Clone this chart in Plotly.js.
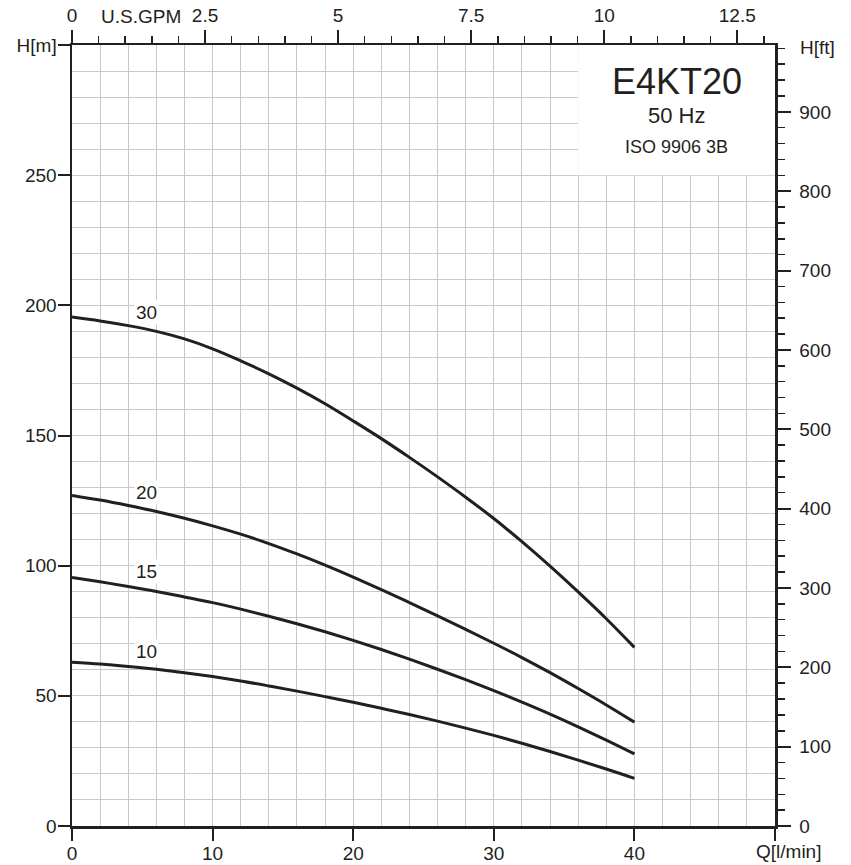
<!DOCTYPE html>
<html>
<head>
<meta charset="utf-8">
<script src="https://cdn.plot.ly/plotly-3.0.1.min.js"></script>
<style>html,body{margin:0;padding:0;background:#fff;}#chart{width:851px;height:865px;}</style>
</head>
<body>
<div id="chart"></div>
<script>
// Flow Q [l/min]
const flowQ = [0,2,4,6,8,10,12,14,16,18,20,22,24,26,28,30,32,34,36,38,40];
// Head H [m] for each stage count
const head30 = [195.5,194.0,192.2,190.0,187.1,183.3,178.7,173.7,168.2,162.2,155.6,148.8,141.6,134.1,126.3,118.1,109.2,99.8,89.9,79.6,68.6];
const head20 = [127.0,125.2,123.1,120.8,118.2,115.3,112.1,108.5,104.5,100.2,95.6,90.8,85.8,80.7,75.5,70.2,64.7,58.9,52.8,46.5,39.9];
const head15 = [95.5,93.8,92.0,90.1,88.0,85.8,83.3,80.6,77.7,74.6,71.3,67.8,64.1,60.2,56.2,52.0,47.6,43.0,38.1,33.0,27.7];
const head10 = [62.9,62.2,61.3,60.2,58.9,57.4,55.7,53.8,51.8,49.7,47.5,45.2,42.8,40.3,37.6,34.8,31.8,28.6,25.3,21.9,18.3];
const stageLabels = ['30','20','15','10'];
const stageLabelY = [197.3,128.2,97.8,67.1];

// Axis ticks
const qTicks = [0,10,20,30,40,50];
const qTickText = ['0','10','20','30','40',''];
const hTicks = [0,50,100,150,200,250,300];
const hTickText = ['0','50','100','150','200','250','H[m]'];
const gpmTicks = [0,2.5,5,7.5,10,12.5];
const gpmTickText = ['0','2.5','5','7.5','10','12.5'];
const ftTicks = [0,100,200,300,400,500,600,700,800,900];
const ftTickText = ['0','100','200','300','400','500','600','700','800','900'];

const Q_MAX = 50, H_MAX = 300;
const LPM_PER_GPM = 3.785411784, M_PER_FT = 0.3048;

const ink = '#231f20';
const gridC = '#c9c9cb';
const fontFam = 'Liberation Sans, Arial, Helvetica, sans-serif';

const series = [head30, head20, head15, head10];
const traces = series.map(h => ({
  x: flowQ, y: h, type: 'scatter', mode: 'lines',
  line: {color: ink, width: 3, shape: 'spline', smoothing: 1},
  hoverinfo: 'skip', showlegend: false
}));
// empty traces so the secondary (unit-conversion) axes get drawn
traces.push({x: [], y: [], type: 'scatter', mode: 'lines', xaxis: 'x2', yaxis: 'y', hoverinfo: 'skip', showlegend: false});
traces.push({x: [], y: [], type: 'scatter', mode: 'lines', xaxis: 'x', yaxis: 'y2', hoverinfo: 'skip', showlegend: false});

const tf = {family: fontFam, size: 19, color: ink};

const annotations = [];
stageLabels.forEach((t, i) => {
  annotations.push({x: 5.3, y: stageLabelY[i], xref: 'x', yref: 'y', text: t, showarrow: false,
    font: {family: fontFam, size: 19, color: ink}, bgcolor: '#ffffff', borderpad: 1,
    xanchor: 'center', yanchor: 'middle'});
});
annotations.push(
  {x: 43, y: 285.8, xref: 'x', yref: 'y', text: 'E4KT20', showarrow: false,
   font: {family: fontFam, size: 36, color: ink}, xanchor: 'center', yanchor: 'middle'},
  {x: 43, y: 273.0, xref: 'x', yref: 'y', text: '50 Hz', showarrow: false,
   font: {family: fontFam, size: 22, color: ink}, xanchor: 'center', yanchor: 'middle'},
  {x: 43, y: 260.8, xref: 'x', yref: 'y', text: 'ISO 9906 3B', showarrow: false,
   font: {family: fontFam, size: 18, color: ink}, xanchor: 'center', yanchor: 'middle'},
  {x: 4.9, y: 1, xref: 'x', yref: 'paper', text: 'U.S.GPM', showarrow: false,
   font: tf, xanchor: 'center', yanchor: 'middle', yshift: 28.5},
  {x: 1, y: 1, xref: 'paper', yref: 'paper', text: 'H[ft]', showarrow: false,
   font: tf, xanchor: 'left', yanchor: 'middle', xshift: 23, yshift: -2},
  {x: 50, y: 0, xref: 'x', yref: 'paper', text: 'Q[l/min]', showarrow: false,
   font: tf, xanchor: 'center', yanchor: 'middle', xshift: 13, yshift: -25}
);

const layout = {
  width: 851, height: 865,
  margin: {l: 72, r: 76, t: 45, b: 39},
  paper_bgcolor: '#ffffff', plot_bgcolor: '#ffffff',
  showlegend: false,
  font: {family: fontFam, color: ink},
  xaxis: {
    range: [0, Q_MAX], autorange: false, fixedrange: true,
    tickmode: 'array', tickvals: qTicks, ticktext: qTickText,
    ticks: 'outside', ticklen: 12, tickwidth: 2, tickcolor: ink,
    ticklabelstandoff: -3,
    showline: true, linewidth: 2.5, linecolor: ink,
    showgrid: true, gridcolor: gridC, gridwidth: 1, zeroline: false,
    minor: {tickmode: 'linear', tick0: 0, dtick: 2, showgrid: true, gridcolor: gridC, gridwidth: 1, ticks: ''},
    tickfont: tf
  },
  xaxis2: {
    overlaying: 'x', side: 'top', anchor: 'y',
    range: [0, Q_MAX / LPM_PER_GPM], autorange: false, fixedrange: true,
    tickmode: 'array', tickvals: gpmTicks, ticktext: gpmTickText,
    ticks: 'outside', ticklen: 13, tickwidth: 2, tickcolor: ink,
    minor: {tickmode: 'linear', tick0: 0, dtick: 0.5, ticks: 'outside', ticklen: 7, tickwidth: 1.5, tickcolor: ink, showgrid: false},
    showline: true, linewidth: 2.5, linecolor: ink,
    showgrid: false, zeroline: false,
    tickfont: tf
  },
  yaxis: {
    range: [0, H_MAX], autorange: false, fixedrange: true,
    tickmode: 'array', tickvals: hTicks, ticktext: hTickText,
    ticks: 'outside', ticklen: 12, tickwidth: 2, tickcolor: ink,
    ticklabelstandoff: -3,
    showline: true, linewidth: 2.5, linecolor: ink,
    showgrid: true, gridcolor: gridC, gridwidth: 1, zeroline: false,
    minor: {tickmode: 'linear', tick0: 0, dtick: 10, showgrid: true, gridcolor: gridC, gridwidth: 1, ticks: ''},
    tickfont: tf
  },
  yaxis2: {
    overlaying: 'y', side: 'right', anchor: 'x',
    range: [0, H_MAX / M_PER_FT], autorange: false, fixedrange: true,
    tickmode: 'array', tickvals: ftTicks, ticktext: ftTickText,
    ticks: 'outside', ticklen: 13, tickwidth: 2, tickcolor: ink,
    ticklabelstandoff: 5,
    minor: {tickmode: 'linear', tick0: 0, dtick: 20, ticks: 'outside', ticklen: 7, tickwidth: 1.5, tickcolor: ink, showgrid: false},
    showline: true, linewidth: 2.5, linecolor: ink,
    showgrid: false, zeroline: false,
    tickfont: tf
  },
  shapes: [{
    type: 'rect', xref: 'x', yref: 'y', x0: 36, x1: Q_MAX, y0: 250, y1: H_MAX,
    fillcolor: '#ffffff', line: {width: 0}, layer: 'between'
  }],
  annotations: annotations
};

Plotly.newPlot('chart', traces, layout, {displayModeBar: false, staticPlot: true});
</script>
</body>
</html>
